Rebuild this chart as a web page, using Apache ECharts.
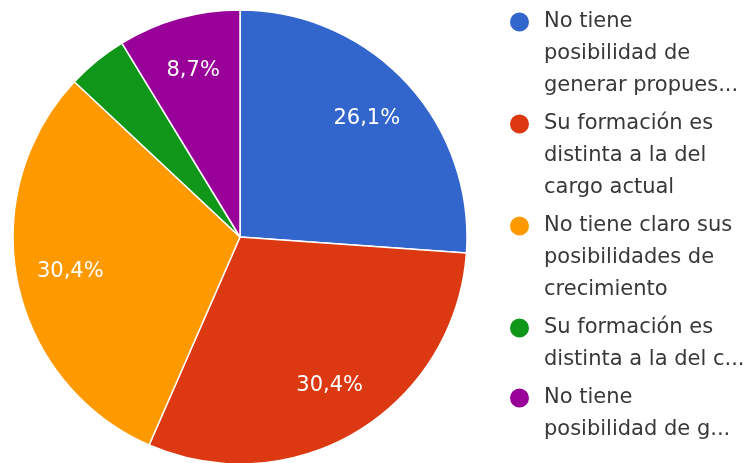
<!DOCTYPE html>
<html>
<head>
<meta charset="utf-8">
<script src="https://cdn.jsdelivr.net/npm/echarts@6/dist/echarts.min.js"></script>
<style>
  html, body { margin: 0; padding: 0; background: #ffffff; }
  #chart { width: 756px; height: 463px; }
</style>
</head>
<body>
<div id="chart"></div>
<script>
// Answer categories and their share of responses (%)
const categories = [
  'No tiene posibilidad de generar propues...',
  'Su formación es distinta a la del cargo actual',
  'No tiene claro sus posibilidades de crecimiento',
  'Su formación es distinta a la del c...',
  'No tiene posibilidad de g...'
];
const shares = [26.1, 30.4, 30.4, 4.3, 8.7];
// Legend text, wrapped the way it is shown
const legendLines = [
  ['No tiene', 'posibilidad de', 'generar propues...'],
  ['Su formación es', 'distinta a la del', 'cargo actual'],
  ['No tiene claro sus', 'posibilidades de', 'crecimiento'],
  ['Su formación es', 'distinta a la del c...'],
  ['No tiene', 'posibilidad de g...']
];
const colors = ['#3366cc', '#dc3912', '#ff9900', '#109618', '#990099'];
// Slices smaller than this carry no percentage label
const minLabelShare = 5;

const FONT = 'DejaVu Sans';
const LINE_H = 32;
const ITEM_GAP = 6;
const LEGEND_FIRST_Y = 22;   // centre of the first legend marker
const CX = 240, CY = 237, R = 227;

const pieData = categories.map((name, i) => ({ name, value: shares[i] }));
const fmtPct = v => v.toFixed(1).replace('.', ',') + '%';

// One legend block per category so the marker sits beside the first text line.
// The text is vertically centred on the marker, so blank lines are put in front
// of it to push the first real line up to the marker's height.
const legends = [];
let markerY = LEGEND_FIRST_Y;
categories.forEach((name, i) => {
  const n = legendLines[i].length;
  const blockHalf = (2 * n - 1) * LINE_H / 2;
  legends.push({
    orient: 'vertical',
    left: 508,
    top: markerY - blockHalf,
    padding: 0,
    itemWidth: 21,
    itemHeight: 21,
    icon: 'circle',
    selectedMode: false,
    textStyle: {
      fontFamily: FONT, fontSize: 21, color: '#383838',
      lineHeight: LINE_H, padding: [0, 0, 0, 9]
    },
    formatter: nm => {
      const lines = legendLines[categories.indexOf(nm)];
      return new Array(lines.length - 1).fill('').concat(lines).join('\n');
    },
    data: [name]
  });
  markerY += n * LINE_H + ITEM_GAP;
});

const chart = echarts.init(document.getElementById('chart'), null, { renderer: 'canvas' });
chart.setOption({
  backgroundColor: '#ffffff',
  color: colors,
  animation: false,
  legend: legends,
  series: [
    {
      type: 'pie',
      center: [CX, CY],
      radius: [0, R],
      startAngle: 90,
      clockwise: true,
      silent: true,
      itemStyle: { borderColor: '#ffffff', borderWidth: 1.5 },
      label: { show: false },
      labelLine: { show: false },
      data: pieData
    },
    {
      // transparent ring that only positions the percentage labels
      type: 'pie',
      center: [CX, CY],
      radius: [R * 0.5, R],
      startAngle: 90,
      clockwise: true,
      silent: true,
      itemStyle: { color: 'rgba(0,0,0,0)' },
      label: {
        position: 'inside',
        color: '#ffffff',
        fontFamily: FONT,
        fontSize: 21,
        formatter: p => (p.value < minLabelShare ? '' : fmtPct(p.value))
      },
      labelLine: { show: false },
      data: pieData
    }
  ]
});
</script>
</body>
</html>
